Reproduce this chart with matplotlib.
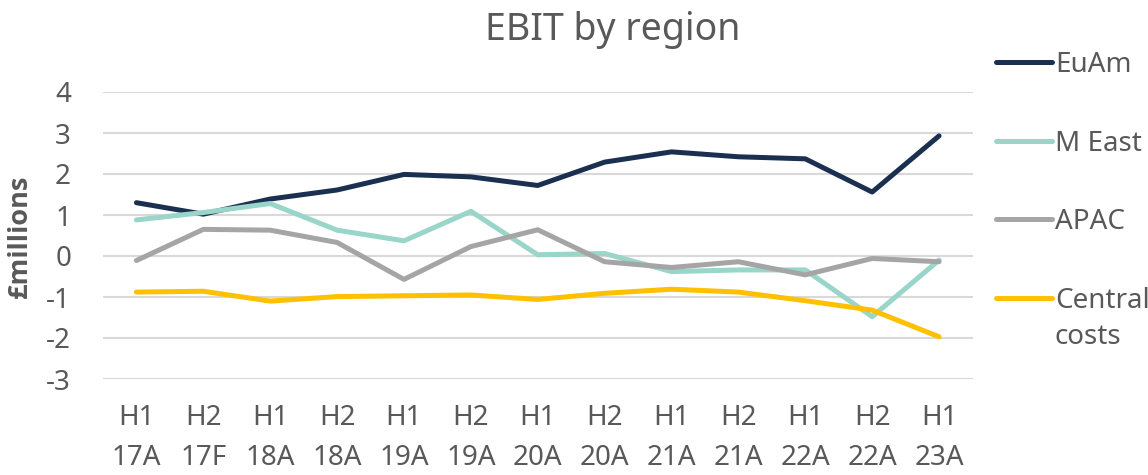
import numpy as np
import matplotlib
matplotlib.use("Agg")
import matplotlib.pyplot as plt

plt.rcParams['font.family'] = ['Noto Sans', 'DejaVu Sans']
plt.rcParams['axes.unicode_minus'] = False

periods = ["H1\n17A", "H2\n17F", "H1\n18A", "H2\n18A", "H1\n19A", "H2\n19A", "H1\n20A",
           "H2\n20A", "H1\n21A", "H2\n21A", "H1\n22A", "H2\n22A", "H1\n23A"]
euam = [1.30, 1.02, 1.39, 1.61, 1.99, 1.93, 1.72, 2.29, 2.54, 2.42, 2.37, 1.56, 2.93]
m_east = [0.88, 1.06, 1.28, 0.63, 0.37, 1.09, 0.03, 0.06, -0.38, -0.34, -0.34, -1.48, -0.10]
apac = [-0.11, 0.65, 0.63, 0.33, -0.57, 0.23, 0.64, -0.14, -0.28, -0.14, -0.46, -0.06, -0.14]
central = [-0.88, -0.86, -1.10, -0.99, -0.97, -0.95, -1.06, -0.91, -0.81, -0.88, -1.09, -1.32, -1.97]

series = [("EuAm", euam, "#1b3051"), ("M East", m_east, "#99d5c8"),
          ("APAC", apac, "#a5a5a5"), ("Central", central, "#ffc000")]

txt = "#595959"
fig = plt.figure(figsize=(11.48, 4.75), dpi=100)
ax = fig.add_axes([103/1148, 1-379/475, (972.5-103)/1148, (379-92)/475])

x = np.arange(len(periods))
for name, vals, col in series:
    ax.plot(x, vals, color=col, lw=3.6, label=name, solid_capstyle='round', solid_joinstyle='round')

ax.set_xlim(-0.5, len(periods)-0.5)
ax.set_ylim(-3, 4)
ax.set_yticks(range(-3, 5))
ax.set_xticks(x)
ax.set_xticklabels(periods, linespacing=1.55)
ax.grid(axis='y', color='#d9d9d9', lw=1.5)
ax.set_axisbelow(True)
for s in ax.spines.values():
    s.set_visible(False)
ax.tick_params(length=0, labelsize=20, colors=txt)
ax.tick_params(axis='y', pad=23)
ax.tick_params(axis='x', pad=18)

fig.text(20/1148, 1-236/475, "£millions", rotation=90, fontsize=19.5, family='Open Sans',
         fontweight='bold', color=txt, ha='center', va='center')
fig.text(613/1148, 1-30/475, "EBIT by region", fontsize=27, color=txt, ha='center', va='center')

leg = fig.legend(loc='upper left', bbox_to_anchor=(996/1148, 1-51/475), frameon=False,
                 borderaxespad=0, borderpad=0,
                 fontsize=20, labelspacing=1.82, handlelength=2.0, handletextpad=0.12,
                 labelcolor=txt)
fig.canvas.draw()
bb = leg.get_texts()[3].get_window_extent()
fig.text(bb.x0/1148, (bb.y0 - 8)/475, "costs", fontsize=20, color=txt, ha='left', va='top')

fig.savefig("out.png", dpi=100)
